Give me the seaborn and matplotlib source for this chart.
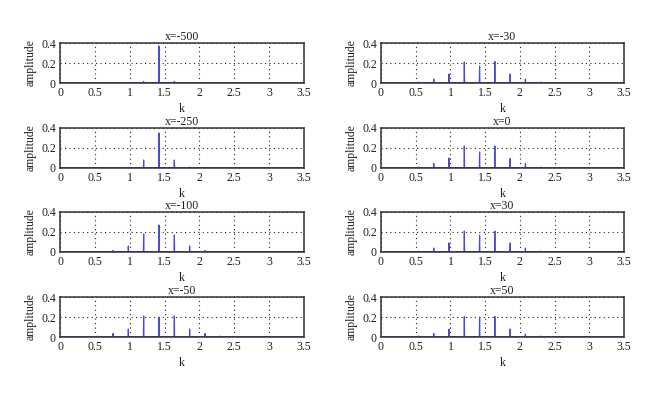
import numpy as np
import pandas as pd
import matplotlib
matplotlib.use("Agg")
import matplotlib.pyplot as plt
import seaborn as sns

# ------------------------
# DATA
# ------------------------
peak_k = [0.54, 0.76, 0.98, 1.20, 1.42, 1.64, 1.86, 2.08, 2.30]

panel_titles = ["x=-500", "x=-30", "x=-250", "x=0",
                "x=-100", "x=30", "x=-50", "x=50"]

amp_m500 = [0.0, 0.0, 0.002, 0.015, 0.37, 0.015, 0.002, 0.0, 0.0]
amp_m250 = [0.0, 0.0, 0.006, 0.08, 0.35, 0.08, 0.01, 0.0, 0.0]
amp_m100 = [0.003, 0.015, 0.06, 0.18, 0.27, 0.17, 0.06, 0.015, 0.003]
amp_m50 = [0.01, 0.035, 0.08, 0.21, 0.20, 0.21, 0.08, 0.035, 0.01]
amp_m30 = [0.01, 0.04, 0.09, 0.21, 0.17, 0.215, 0.09, 0.04, 0.01]
amp_0 = [0.01, 0.045, 0.10, 0.22, 0.16, 0.22, 0.095, 0.045, 0.01]
amp_p30 = [0.01, 0.04, 0.09, 0.21, 0.17, 0.21, 0.09, 0.04, 0.01]
amp_p50 = [0.01, 0.035, 0.08, 0.205, 0.20, 0.205, 0.08, 0.03, 0.01]

panel_amps = [amp_m500, amp_m30, amp_m250, amp_0,
              amp_m100, amp_p30, amp_m50, amp_p50]

k_range = [0.0, 3.5]
baseline = 0.004

# ------------------------
# BUILD
# ------------------------
def spectrum_frame(amps):
    # narrow spikes on a flat floor
    ks, ys = [k_range[0]], [baseline]
    for p, a in zip(peak_k, amps):
        ks += [p - 0.004, p, p + 0.004]
        ys += [baseline, max(a, baseline), baseline]
    ks.append(k_range[1])
    ys.append(baseline)
    return pd.DataFrame({"k": ks, "amplitude": ys})


sns.set_theme(style="white")
plt.rcParams["font.family"] = ["Liberation Serif", "DejaVu Serif"]

fig = plt.figure(figsize=(6.6, 3.94), dpi=100)

lefts = [60 / 660, 381 / 660]
width_l = 244 / 660
width_r = 243 / 660
bottoms_px = [311, 226, 142, 57]
height = 40 / 394

line_color = "#4b4bcc"
txt = "#1e1e1e"

for i, (title, amps) in enumerate(zip(panel_titles, panel_amps)):
    row, col = divmod(i, 2)
    ax = fig.add_axes([lefts[col], bottoms_px[row] / 394,
                       width_l if col == 0 else width_r, height])
    df = spectrum_frame(amps)
    sns.lineplot(data=df, x="k", y="amplitude", ax=ax, color=line_color,
                 lw=0.85, sort=False, estimator=None)
    ax.set_xlim(*k_range)
    ax.set_ylim(0, 0.4)
    ax.set_xticks([0, 0.5, 1, 1.5, 2, 2.5, 3, 3.5])
    ax.set_xticklabels(["0", "0.5", "1", "1.5", "2", "2.5", "3", "3.5"])
    ax.set_yticks([0, 0.2, 0.4])
    ax.set_yticklabels(["0", "0.2", "0.4"])
    ax.grid(True, color="#222222", linestyle=(0, (1, 3)), lw=0.8)
    for s in ax.spines.values():
        s.set_color("#333333")
        s.set_linewidth(1.1)
    ax.tick_params(axis="both", labelsize=8.5, length=0, pad=3, colors=txt)
    ax.set_title(title, fontsize=8.5, pad=2, color=txt)
    ax.set_xlabel("k", fontsize=8.5, labelpad=3, color=txt)
    ax.set_ylabel("amplitude", fontsize=8.5, labelpad=3, color=txt)

fig.savefig("out.png", dpi=100)
